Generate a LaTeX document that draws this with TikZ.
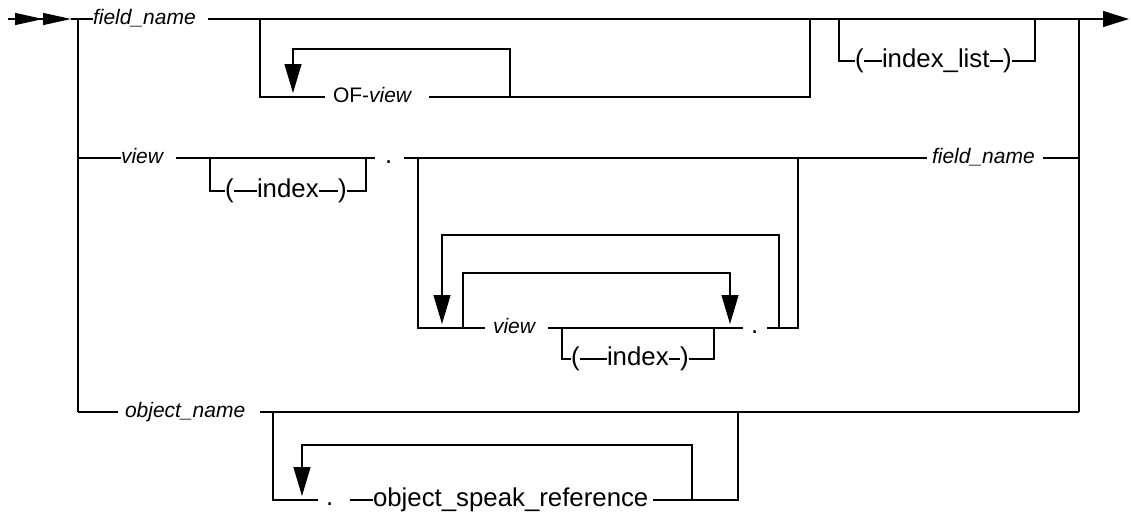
\documentclass[tikz,border=0pt]{standalone}
\usepackage{fontspec}
\setmainfont{Liberation Sans}
\usetikzlibrary{arrows.meta}
\tikzset{
  rail/.style={line width=1.3pt, line cap=butt, line join=miter},
  loopback/.style={rail, -{Triangle[length=29pt,width=17pt]}},
  nt/.style={inner sep=0pt, outer sep=0pt, anchor=base west,
             font=\fontsize{21}{21}\selectfont\itshape},
  kw/.style={inner sep=0pt, outer sep=0pt, anchor=base west,
             font=\fontsize{25.8}{26}\selectfont},
  kwsm/.style={inner sep=0pt, outer sep=0pt, anchor=base west,
             font=\fontsize{21}{21}\selectfont},
}
\begin{document}
\begin{tikzpicture}[x=1pt,y=-1pt]
\useasboundingbox (0,0) rectangle (1131,514);

% ---------- main line ----------
\coordinate (in) at (8,19);
\coordinate (inTip) at (71,19);
\coordinate (L1) at (78,19);
\coordinate (L2) at (78,158);
\coordinate (L3) at (78,412);
\coordinate (R1) at (1079,19);
\coordinate (R2) at (1079,158);
\coordinate (R3) at (1079,412);
\coordinate (out) at (1129,19);

\node[nt] (fn1) at (93,24.5) {field\_name};
\coordinate (m1) at (208,19);

\draw[rail,-{Triangle[length=28pt,width=12pt]Triangle[length=28pt,width=12pt]}] (in) -- (inTip);
\draw[rail] (inTip) -- (fn1.west |- L1);
\draw[rail] (m1) -- (R1);
\draw[rail,-{Triangle[length=26pt,width=16pt]}] (R1) -- (out);
\draw[rail] (L1) -- (L3);
\draw[rail] (R1) -- (R3);

% ---------- optional OF-view, repeatable ----------
\coordinate (ofA) at (260,19);
\coordinate (ofB) at (260,97);
\coordinate (ofE) at (325,97);
\node[kwsm] (of) at (333,102.5) {OF-\textit{view}};
\coordinate (ofX) at (429,97);
\coordinate (ofC) at (810,97);
\coordinate (ofD) at (810,19);
\draw[rail] (ofA) -- (ofB) -- (ofE);
\draw[rail] (ofX) -- (ofC) -- (ofD);
\coordinate (lpA) at (510,97);
\coordinate (lpB) at (510,49);
\coordinate (lpC) at (293,49);
\coordinate (lpD) at (293,93);
\draw[loopback] (lpA) -- (lpB) -- (lpC) -- (lpD);

% ---------- optional (index_list) ----------
\coordinate (ilA) at (839,19);
\coordinate (ilB) at (839,61);
\coordinate (ilC) at (1035,61);
\coordinate (ilD) at (1035,19);
\node[kw] (ilL) at (855,67.5) {(};
\node[kw] (il) at (882,67.5) {index\_list};
\node[kw] (ilR) at (1003,67.5) {)};
\draw[rail] (ilA) -- (ilB) -- (ilL.west |- ilB);
\draw[rail] (ilL.east |- ilB) -- (il.west |- ilB);
\draw[rail] (il.east |- ilB) -- (ilR.west |- ilB);
\draw[rail] (ilR.east |- ilB) -- (ilC) -- (ilD);

% ---------- second alternative: view ----------
\node[nt] (v2) at (121,163.5) {view};
\draw[rail] (L2) -- (v2.west |- L2);
\coordinate (v2o) at (176,158);
\coordinate (d2i) at (375,158);
\draw[rail] (v2o) -- (d2i);

\coordinate (ixA) at (210,158);
\coordinate (ixB) at (210,191);
\coordinate (ixC) at (366,191);
\coordinate (ixD) at (366,158);
\node[kw] (ixL) at (225,197.5) {(};
\node[kw] (ix) at (257,197.5) {index};
\node[kw] (ixR) at (338,197.5) {)};
\draw[rail] (ixA) -- (ixB) -- (ixL.west |- ixB);
\draw[rail] (ixL.east |- ixB) -- (ix.west |- ixB);
\draw[rail] (ix.east |- ixB) -- (ixR.west |- ixB);
\draw[rail] (ixR.east |- ixB) -- (ixC) -- (ixD);

\node[kw] (dot2) at (385,163.5) {.};
\coordinate (g2) at (404,158);
\coordinate (f2i) at (927,158);
\draw[rail] (g2) -- (f2i);
\node[nt] (fn2) at (932,163.5) {field\_name};
\coordinate (f2o) at (1043,158);
\draw[rail] (f2o) -- (R2);

% optional group of qualifiers
\coordinate (gA) at (418,158);
\coordinate (gB) at (418,328);
\coordinate (gC) at (798,328);
\coordinate (gD) at (798,158);
\coordinate (v3i) at (485,328);
\node[nt] (v3) at (493,333.5) {view};
\coordinate (v3o) at (548,328);
\coordinate (d3i) at (743,328);
\node[kw] (dot3) at (751,333.5) {.};
\coordinate (d3o) at (767,328);
\draw[rail] (gA) -- (gB) -- (v3i);
\draw[rail] (v3o) -- (d3i);
\draw[rail] (d3o) -- (gC) -- (gD);

\coordinate (oA) at (779,328);
\coordinate (oB) at (779,235);
\coordinate (oC) at (442,235);
\coordinate (oD) at (442,324);
\draw[loopback] (oA) -- (oB) -- (oC) -- (oD);

\coordinate (iA) at (463,328);
\coordinate (iB) at (463,273);
\coordinate (iC) at (730,273);
\coordinate (iD) at (730,324);
\draw[loopback] (iA) -- (iB) -- (iC) -- (iD);

\coordinate (jA) at (562,328);
\coordinate (jB) at (562,359);
\coordinate (jC) at (714,359);
\coordinate (jD) at (714,328);
\node[kw] (jxL) at (571,365.5) {(};
\node[kw] (jx) at (607,365.5) {index};
\node[kw] (jxR) at (680,365.5) {)};
\draw[rail] (jA) -- (jB) -- (jxL.west |- jB);
\draw[rail] (jxL.east |- jB) -- (jx.west |- jB);
\draw[rail] (jx.east |- jB) -- (jxR.west |- jB);
\draw[rail] (jxR.east |- jB) -- (jC) -- (jD);

% ---------- third alternative: object_name ----------
\coordinate (onI) at (118,412);
\node[nt] (on) at (125,417.5) {object\_name};
\coordinate (onO) at (260,412);
\draw[rail] (L3) -- (onI);
\draw[rail] (onO) -- (R3);

\coordinate (sA) at (273,412);
\coordinate (sB) at (273,500);
\coordinate (sC) at (318,500);
\node[kw] (dot4) at (326,505.5) {.};
\coordinate (sD) at (350,500);
\node[kw] (osr) at (373,506.5) {object\_speak\_reference};
\coordinate (sE) at (653,500);
\coordinate (sF) at (738,500);
\coordinate (sG) at (738,412);
\draw[rail] (sA) -- (sB) -- (sC);
\draw[rail] (sD) -- (osr.west |- sD);
\draw[rail] (sE) -- (sF) -- (sG);

\coordinate (tA) at (692,500);
\coordinate (tB) at (692,445);
\coordinate (tC) at (302,445);
\coordinate (tD) at (302,496);
\draw[loopback] (tA) -- (tB) -- (tC) -- (tD);

\end{tikzpicture}
\end{document}
